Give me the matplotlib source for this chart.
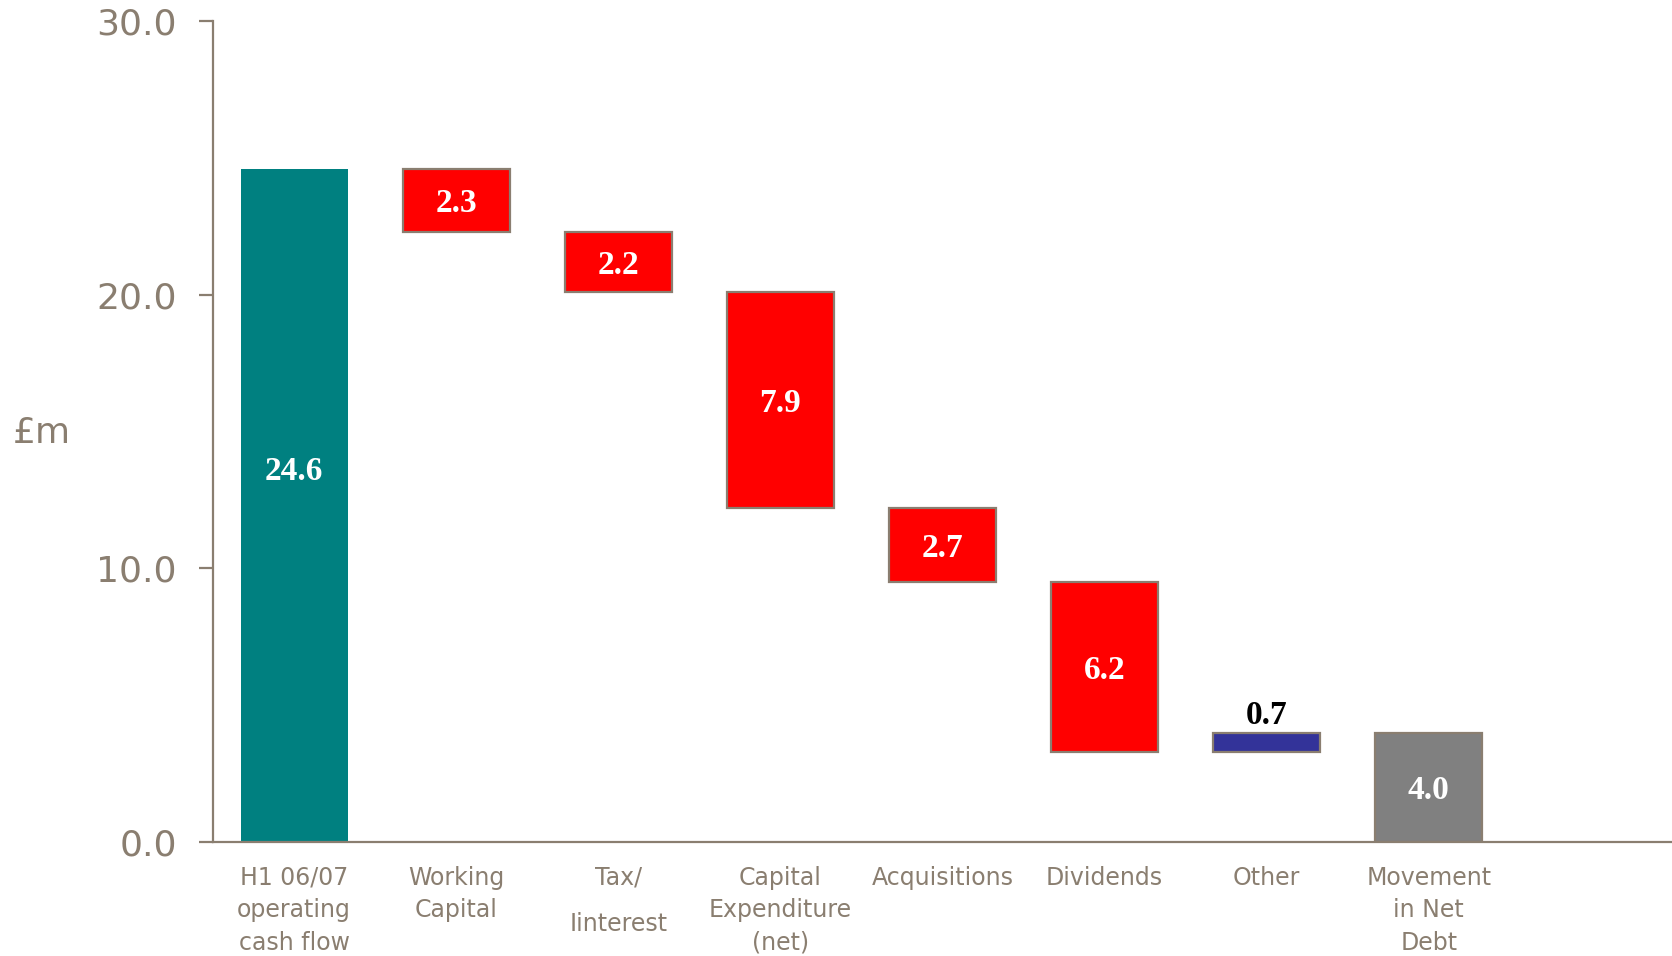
import numpy as np
from matplotlib import pyplot as plt

categories = ["H1 06/07\noperating\ncash flow", "Working\nCapital", "Tax/\nIinterest",
              "Capital\nExpenditure\n(net)", "Acquisitions", "Dividends", "Other",
              "Movement\nin Net\nDebt"]
opening = 24.6
changes = [-2.3, -2.2, -7.9, -2.7, -6.2, 0.7]
closing = 4.0

TEAL = "#008080"
RED = "#FF0000"
BLUE = "#333399"
GREY = "#808080"
TXT = "#8A7E70"

# build waterfall segments
bottoms = [0.0]
heights = [opening]
colors = [TEAL]
running = opening
for c in changes:
    if c < 0:
        bottoms.append(running + c)
        heights.append(-c)
        colors.append(RED)
    else:
        bottoms.append(running)
        heights.append(c)
        colors.append(BLUE)
    running += c
bottoms.append(0.0)
heights.append(closing)
colors.append(GREY)
values = [opening] + [abs(c) for c in changes] + [closing]

fig = plt.figure(figsize=(16.72, 9.56), dpi=100)
ax = fig.add_axes([213 / 1672, 1 - 842 / 956, 1 - 213 / 1672, (842 - 21) / 956])

x = np.arange(len(categories))
for i in range(len(x)):
    ec = "none" if i == 0 else TXT
    ax.bar(x[i], heights[i], bottom=bottoms[i], width=0.66, color=colors[i],
           edgecolor=ec, linewidth=1.6, zorder=2)

for i in range(len(x)):
    if colors[i] == BLUE:
        ax.text(x[i], bottoms[i] + heights[i] + 0.05, f"{values[i]:.1f}", ha="center", va="bottom",
                color="black", fontsize=24, fontweight="bold", family="Liberation Serif")
    else:
        yc = bottoms[i] + heights[i] / 2
        if i == 0:
            yc = heights[i] * 0.555
        ax.text(x[i], yc, f"{values[i]:.1f}", ha="center", va="center_baseline",
                color="white", fontsize=24, fontweight="bold", family="Liberation Serif")

ax.set_xlim(-0.5, 8.5)
ax.set_ylim(0, 30)
ax.set_yticks([0, 10, 20, 30])
ax.set_yticklabels(["0.0", "10.0", "20.0", "30.0"])
ax.set_xticks(x)
ax.set_xticklabels(categories)

for s in ["top", "right"]:
    ax.spines[s].set_visible(False)
for s in ["left", "bottom"]:
    ax.spines[s].set_color(TXT)
    ax.spines[s].set_linewidth(1.6)

ax.tick_params(axis="y", colors=TXT, labelsize=26, length=10, width=1.6, pad=16)
ax.tick_params(axis="x", colors=TXT, labelsize=17, length=0, pad=17)
for lab in ax.get_xticklabels():
    lab.set_linespacing(1.45)
ax.get_xticklabels()[2].set_linespacing(2.2)

fig.text(13 / 1672, 1 - 433 / 956, "£m", color=TXT, fontsize=26, ha="left", va="center")

fig.savefig("out.png", dpi=100)
